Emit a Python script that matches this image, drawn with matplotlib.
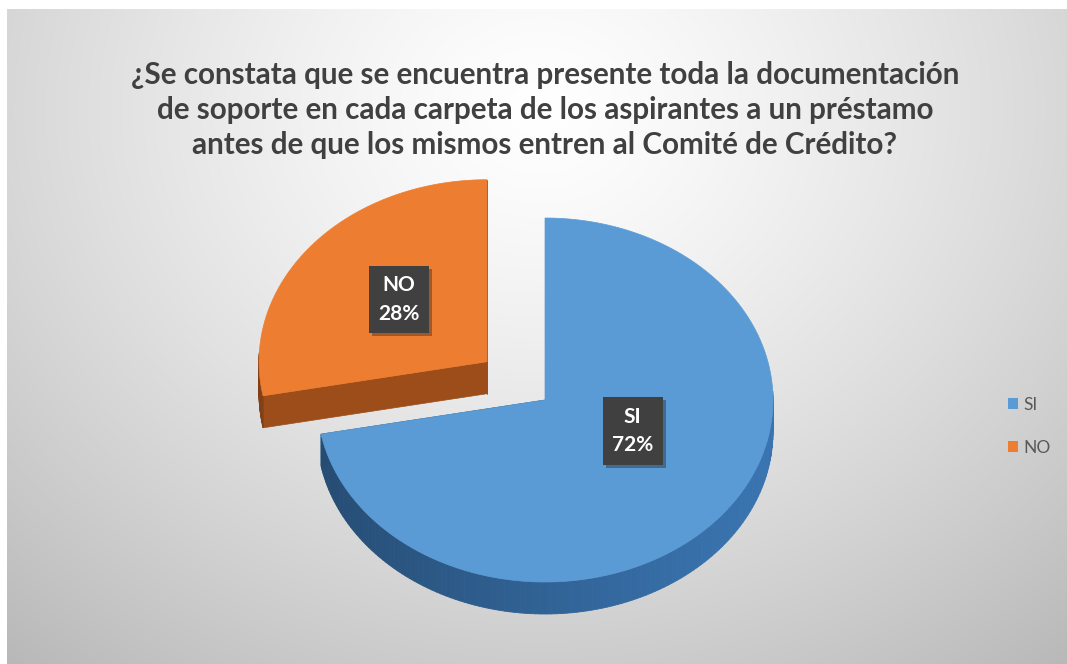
import numpy as np
import matplotlib.pyplot as plt
from matplotlib.patches import Polygon, Patch
import matplotlib.colors as mcolors
import matplotlib.patheffects as pe

# survey answers
labels = ["SI", "NO"]
shares = [72, 28]
top_colors = ["#5B9BD5", "#ED7D31"]
side_colors = ["#2F5F90", "#A4511B"]
explode = [0.0, 0.33]

title = ("¿Se constata que se encuentra presente toda la documentación\n"
         "de soporte en cada carpeta de los aspirantes a un préstamo\n"
         "antes de que los mismos entren al Comité de Crédito?")

W, H = 1067, 664
fig = plt.figure(figsize=(W / 100, H / 100), dpi=100)
ax = fig.add_axes([0, 0, 1, 1])

# radial grey background
yy, xx = np.mgrid[9:H + 6, 7:W + 6]
d = np.sqrt(((xx - 540) / 720.0) ** 2 + ((yy - 110) / 620.0) ** 2)
shade = np.clip(1 - 0.23 * d ** 1.3, 0, 1)
ax.imshow(np.dstack([shade] * 3), extent=[7, W + 6, H + 6, 9], zorder=0,
          aspect='auto', interpolation='bilinear')

# 3d pie geometry
cx, cy = 545, 400
rx, ry = 228, 182
depth = 32


def pt(theta, ox, oy, r=1.0, dz=0.0):
    t = np.radians(theta)
    return (cx + ox + r * rx * np.cos(t), cy + oy - r * ry * np.sin(t) + dz)


def scaled(color, f):
    c = np.array(mcolors.to_rgb(color)) * f
    return tuple(np.clip(c, 0, 1))


angles = []
start = 90.0
for s in shares:
    end = start - 360.0 * s / sum(shares)
    angles.append((start, end))
    start = end

label_pos = []
# back slice first so the front one overlaps it
for i in reversed(range(len(shares))):
    t1, t2 = angles[i]
    mid = (t1 + t2) / 2
    ox = explode[i] * rx * np.cos(np.radians(mid))
    oy = -explode[i] * ry * np.sin(np.radians(mid))
    apex = (cx + ox, cy + oy)

    # radial cut faces
    for t in (t1, t2):
        e = pt(t, ox, oy)
        quad = [apex, e, (e[0], e[1] + depth), (apex[0], apex[1] + depth)]
        ax.add_patch(Polygon(quad, closed=True, fc=scaled(side_colors[i], 0.95),
                             ec=scaled(side_colors[i], 0.95), lw=0.5, zorder=2))

    # curved outer wall, shaded by angle
    ts = np.linspace(t1, t2, 200)
    for a, b in zip(ts[:-1], ts[1:]):
        if np.sin(np.radians((a + b) / 2)) > 0.05:
            continue
        pa, pb = pt(a, ox, oy), pt(b, ox, oy)
        f = 1.0 + 0.22 * np.cos(np.radians((a + b) / 2 + 10))
        col = scaled(side_colors[i], f)
        ax.add_patch(Polygon([pa, pb, (pb[0], pb[1] + depth), (pa[0], pa[1] + depth)],
                             closed=True, fc=col, ec=col, lw=0.6, zorder=2))

    # top face
    top = [apex] + [pt(t, ox, oy) for t in np.linspace(t1, t2, 300)]
    ax.add_patch(Polygon(top, closed=True, fc=top_colors[i], ec=top_colors[i],
                         lw=0.5, zorder=3))

    lx, ly = pt(mid, ox, oy, r=0.5)
    label_pos.append((i, lx, ly))

for i, lx, ly in label_pos:
    if i == 0:
        ly -= 27
    else:
        ly -= 4
    txt = "%s\n%d%%" % (labels[i], shares[i])
    t = ax.text(lx, ly, txt, color='white', zorder=5, ha='center', va='center',
                fontsize=15, fontweight='bold', family='Lato', linespacing=1.55,
                bbox=dict(boxstyle='square,pad=0.45', fc='#404040', ec='none'))
    t.get_bbox_patch().set_path_effects(
        [pe.SimplePatchShadow(offset=(2, -2), alpha=0.35), pe.Normal()])

ax.text(545, 110, title, ha='center', va='center', fontsize=21.3, fontweight='bold',
        color='#404040', family='Lato', linespacing=1.31, zorder=5)

handles = [Patch(fc=c, ec='none') for c in top_colors]
leg = ax.legend(handles, labels, loc='center left', bbox_to_anchor=(0.93, 0.358),
                frameon=False, handlelength=0.6, handleheight=0.6, handletextpad=0.3,
                labelspacing=1.55, prop={'family': 'Lato', 'size': 12.5})
for t in leg.get_texts():
    t.set_color('#595959')

ax.set_xlim(0, W)
ax.set_ylim(H, 0)
ax.axis('off')
fig.savefig("out.png", dpi=100, facecolor='white')
